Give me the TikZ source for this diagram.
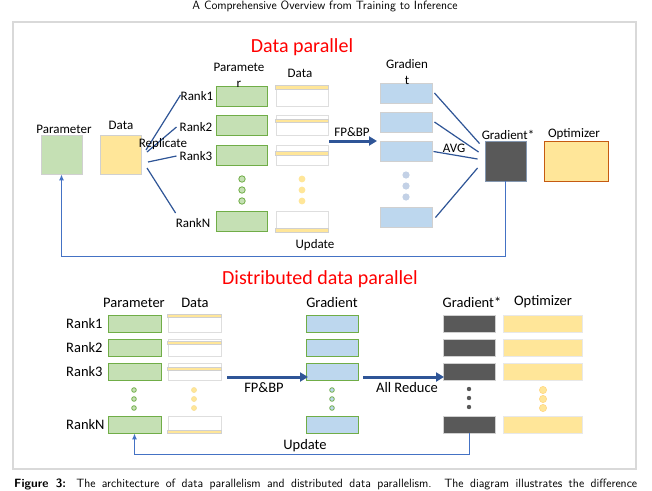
\documentclass[tikz,border=0pt]{standalone}
\usepackage{fontspec}
\newfontfamily\carl{Carlito}
\usetikzlibrary{arrows.meta,calc}
\definecolor{gfill}{HTML}{C5E0B4}
\definecolor{gline}{HTML}{70AD47}
\definecolor{yfill}{HTML}{FFE699}
\definecolor{bfill}{HTML}{BDD7EE}
\definecolor{darkg}{HTML}{595959}
\definecolor{lgray}{HTML}{D0D0D0}
\definecolor{dblue}{HTML}{2F5597}
\definecolor{mblue}{HTML}{4472C4}
\definecolor{orng}{HTML}{C55A11}
\definecolor{frm}{HTML}{D9D9D9}
\definecolor{bgdot}{HTML}{C3D1E6}
\definecolor{bxline}{HTML}{8497B0}
\begin{document}
\begin{tikzpicture}[x=1pt,y=-1pt,
  bx/.style={inner sep=0pt, line width=0.9pt, rectangle},
  grn/.style={bx, fill=gfill, draw=gline},
  ylw/.style={bx, fill=yfill, draw=lgray},
  wht/.style={bx, fill=white, draw=lgray!70},
  blu/.style={bx, fill=bfill, draw=lgray},
  drk/.style={bx, fill=darkg, draw=lgray},
  strip/.style={fill=yfill, draw=lgray, line width=0.5pt},
  lab/.style={font=\carl\fontsize{13}{16}\selectfont, inner sep=0pt, align=center},
  labB/.style={font=\carl\fontsize{14.5}{17}\selectfont, inner sep=0pt},
  ttl/.style={font=\carl\fontsize{20}{24}\selectfont, text=red, inner sep=0pt},
  rep/.style={draw=dblue, line width=1.2pt},
  fat/.style={draw=dblue, line width=3pt, -{Triangle[length=8pt,width=9pt]}},
  upd/.style={draw=mblue, line width=1pt, -{Latex[length=6pt,width=5pt]}},
  tw/.style={minimum width=51pt, minimum height=20pt},
  bw/.style={minimum height=17pt},
]
\useasboundingbox (0,0) rectangle (652,490);
\fill[white] (0,0) rectangle (652,490);
% header
\node[font=\sffamily\fontsize{12}{14}\selectfont, inner sep=0pt, anchor=north] (hdr) at (325,0.8) {A Comprehensive Overview from Training to Inference};
% frame
\draw[frm, line width=1.4pt] (13,22) rectangle (636,469);
% caption
\node[anchor=base west, font=\sffamily\fontsize{12}{14}\selectfont, inner sep=0pt] (cap) at (14,487)
  {\makebox[623pt][s]{\textbf{Figure 3:} The architecture of data parallelism and distributed data parallelism. The diagram illustrates the difference}};

%%%%%%%%%%%%%% TOP: Data parallel
\node[ttl] (t1) at (302,47) {Data parallel};
\node[grn, draw=lgray, minimum width=41pt, minimum height=39pt] (P) at (61.5,154.5) {};
\node[ylw, minimum width=41pt, minimum height=39pt] (D) at (120.5,154.5) {};
\node[lab] (Pl) at (64,129) {Parameter};
\node[lab] (Dl) at (121,125) {Data};

\node[grn, tw] (p1) at (241.5,96) {};
\node[grn, tw] (p2) at (241.5,125.5) {};
\node[grn, tw] (p3) at (241.5,155.5) {};
\node[grn, tw] (pN) at (241.5,221.5) {};
\node[wht, tw, minimum width=52pt] (d1) at (302,96) {};
\node[wht, tw, minimum width=52pt] (d2) at (302,125.5) {};
\node[wht, tw, minimum width=52pt] (d3) at (302,155.5) {};
\node[wht, tw, minimum width=52pt] (dN) at (302,221.5) {};
\draw[strip] (d1.north west) rectangle ($(d1.north east)+(0,4)$);
\draw[strip] ($(d2.north west)+(0,4)$) rectangle ($(d2.north east)+(0,7.5)$);
\draw[strip] ($(d3.north west)+(0,6)$) rectangle ($(d3.north east)+(0,10)$);
\draw[strip] ($(dN.south west)+(0,-4)$) rectangle (dN.south east);
\node[lab] (pl2) at (239,75) {Paramete\\r};
\node[lab] (dl2) at (300,73) {Data};

\node[lab] (r1) at (197,96) {Rank1};
\node[lab] (r2) at (196,127) {Rank2};
\node[lab] (r3) at (196,156) {Rank3};
\node[lab] (rN) at (193,223) {RankN};
\coordinate (s1) at (146,150);
\coordinate (s2) at (147,152);
\coordinate (s3) at (148,162);
\coordinate (s4) at (147,168);
\draw[rep] (s1) -- ($(r1.west)+(0,-1)$);
\draw[rep] (s2) -- ($(r2.west)+(-3,0)$);
\draw[rep] (s3) -- ($(r3.west)+(-3,0)$);
\draw[rep] (s4) -- ($(rN.west)+(0,-10)$);
\node[lab] (repl) at (163,144) {Replicate};

\foreach \y in {179,190,201}{
  \fill[gfill, draw=gline, line width=0.8pt] (242,\y) circle (3.2pt);
  \fill[yfill] (302,\y) circle (3.4pt);
  \fill[bgdot] (406,\y-4) circle (3.6pt);
}

\node[blu, tw, minimum width=52pt] (g1) at (406,93) {};
\node[blu, tw, minimum width=52pt] (g2) at (406,122) {};
\node[blu, tw, minimum width=52pt] (g3) at (406,151.5) {};
\node[blu, tw, minimum width=52pt] (gN) at (406,217.5) {};
\node[lab] (gl) at (407,72) {Gradien\\t};

\coordinate (fs) at (329,141);
\coordinate (fe) at (377,141);
\draw[fat] (fs) -- (fe);
\node[lab] (fpl) at (352,132) {FP\&BP};

\node[drk, draw=bxline, minimum width=41pt, minimum height=40pt] (GS) at (505.5,161) {};
\node[ylw, draw=orng, minimum width=64pt, minimum height=40pt] (OP) at (576,161) {};
\node[lab] (gsl) at (508,135) {Gradient*};
\node[lab] (opl) at (574,134) {Optimizer};

\draw[rep] ($(g1.east)+(2,0)$) -- ($(GS.north west)+(-5,3)$);
\draw[rep] ($(g2.east)+(2,0)$) -- ($(GS.west)+(-6,-9)$);
\draw[rep] ($(g3.east)+(1,0)$) -- ($(GS.west)+(-7,-2)$);
\draw[rep] ($(gN.east)+(3,0)$) -- ($(GS.west)+(-7,7)$);
\node[lab] (avg) at (454,148) {AVG};

\coordinate (u1) at (0,256);
\draw[upd] (GS.south) -- (GS.south |- u1) -| (P.south);
\node[lab] (updl) at (315,245) {Update};

%%%%%%%%%%%%%% BOTTOM: Distributed data parallel
\node[ttl] (t2) at (320,279) {Distributed data parallel};
\node[labB] (hP) at (134,303) {Parameter};
\node[labB] (hD) at (195,303) {Data};
\node[labB] (hG) at (332,303) {Gradient};
\node[labB] (hGS) at (472,302) {Gradient*};
\node[labB] (hO) at (543,302) {Optimizer};

\node[labB, anchor=west] (R1) at (66,324) {Rank1};
\node[labB, anchor=west] (R2) at (66,348) {Rank2};
\node[labB, anchor=west] (R3) at (66,372) {Rank3};
\node[labB, anchor=west] (RN) at (66,425) {RankN};

\foreach \n/\y in {1/323.5,2/347.5,3/371.5,N/424.5}{
  \node[grn, bw, minimum width=53pt] (bp\n) at (134.5,\y) {};
  \node[wht, bw, minimum width=53pt] (bd\n) at (194.5,\y) {};
  \node[blu, draw=gline, bw, minimum width=52pt] (bg\n) at (332,\y) {};
  \node[drk, bw, minimum width=52pt] (bs\n) at (469,\y) {};
  \node[ylw, draw=frm!60, bw, minimum width=79pt] (bo\n) at (542.5,\y) {};
}
\draw[strip] (bd1.north west) rectangle ($(bd1.north east)+(0,3)$);
\draw[strip] ($(bd2.north west)+(0,3)$) rectangle ($(bd2.north east)+(0,6)$);
\draw[strip] ($(bd3.north west)+(0,5)$) rectangle ($(bd3.north east)+(0,8)$);
\draw[strip] ($(bdN.south west)+(0,-3)$) rectangle (bdN.south east);

\foreach \y in {390,399,408}{
  \fill[gfill, draw=gline, line width=0.8pt] (134,\y) circle (2.3pt);
  \fill[yfill, draw=yfill!80!black!20!yfill] (194,\y) circle (2.6pt);
  \fill[bfill, draw=gline, line width=0.8pt] (332,\y) circle (2.3pt);
  \fill[darkg] (469,\y-1) circle (2.2pt);
  \fill[yfill, draw=yfill!85!orange, line width=0.6pt] (543,\y) circle (3.6pt);
}

\coordinate (bf1) at (227,377);
\coordinate (bf2) at (308,377);
\draw[fat] (bf1) -- (bf2);
\node[labB] (bfl) at (264,388) {FP\&BP};
\coordinate (ar1) at (363,377);
\coordinate (ar2) at (444,377);
\draw[fat] (ar1) -- (ar2);
\node[labB] (arl) at (407,388) {All Reduce};

\coordinate (u2) at (0,454);
\draw[upd] (bsN.south) -- (bsN.south |- u2) -| (bpN.south);
\node[labB] (updl2) at (305,446) {Update};
\end{tikzpicture}
\end{document}
